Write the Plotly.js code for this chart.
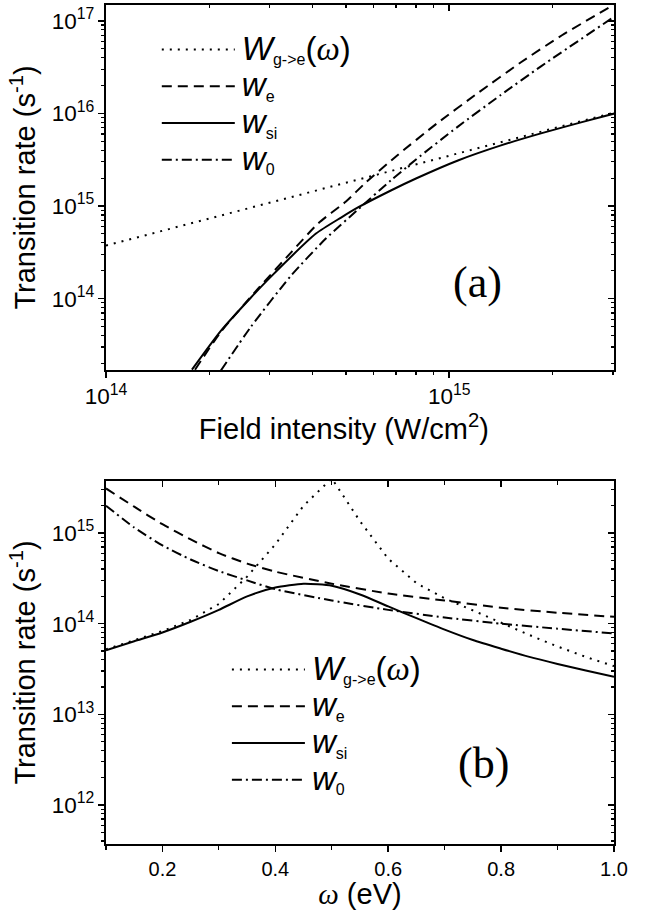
<!DOCTYPE html>
<html><head><meta charset="utf-8">
<script src="https://cdn.plot.ly/plotly-3.0.1.min.js"></script>
<style>html,body{margin:0;padding:0;background:#fff}</style>
</head><body>
<div id="chart" style="width:650px;height:910px"></div>
<script>
// ---------- Panel (a): rate vs field intensity (W/cm^2) ----------
const intensityGe = [1e14, 2e14, 4e14, 7e14, 1e15, 2e15, 3.02e15];
const wGeA = [3.74e14, 7.3e14, 1.44e15, 2.47e15, 3.5e15, 6.8e15, 1.02e16];
const intensityE = [1.817e14, 2.163e14, 2.772e14, 3.458e14, 4.146e14, 5.002e14, 5.72e14, 6.995e14, 9.21e14, 1.22e15, 1.618e15, 2.13e15, 3.04e15];
const wEA = [1.71e13, 4.4e13, 1.28e14, 3.14e14, 6.47e14, 1.12e15, 1.8e15, 3.43e15, 7.8e15, 1.69e16, 3.56e16, 6.97e16, 1.51e17];
const intensitySi = [1.78e14, 2.163e14, 2.645e14, 3.025e14, 4.09e14, 4.84e14, 5.42e14, 6.76e14, 8.0e14, 1.06e15, 1.415e15, 1.85e15, 2.42e15, 3.04e15];
const wSiA = [1.71e13, 4.51e13, 1.03e14, 1.73e14, 5.04e14, 7.5e14, 9.64e14, 1.47e15, 1.98e15, 3.1e15, 4.51e15, 6.08e15, 8.0e15, 1.0e16];
const intensity0 = [2.16e14, 2.645e14, 3.46e14, 4.37e14, 5.42e14, 6.76e14, 8.0e14, 1.06e15, 1.41e15, 1.85e15, 3.04e15];
const w0A = [1.67e13, 4.98e13, 1.77e14, 4.45e14, 9.16e14, 1.89e15, 3.18e15, 7.2e15, 1.57e16, 3.22e16, 1.12e17];

// ---------- Panel (b): rate vs photon energy (eV) ----------
const omegaGe = [0.1, 0.15, 0.2, 0.25, 0.3, 0.35, 0.4, 0.45, 0.5, 0.55, 0.6, 0.65, 0.7, 0.75, 0.8, 0.85, 0.9, 0.95, 1.0];
const wGeB = [5.2e13, 6.6e13, 8.3e13, 1.1e14, 1.65e14, 3.3e14, 7.5e14, 2.0e15, 4.0e15, 1.35e15, 5.2e14, 2.8e14, 1.9e14, 1.4e14, 1.02e14, 7.5e13, 5.6e13, 4.3e13, 3.4e13];
const omegaE = [0.1, 0.15, 0.2, 0.25, 0.3, 0.35, 0.4, 0.5, 0.6, 0.7, 0.8, 0.9, 1.0];
const wEB = [3.1e15, 1.95e15, 1.25e15, 8.5e14, 6.0e14, 4.6e14, 3.75e14, 2.76e14, 2.15e14, 1.8e14, 1.5e14, 1.32e14, 1.19e14];
const omegaSi = [0.1, 0.15, 0.2, 0.25, 0.3, 0.35, 0.4, 0.45, 0.5, 0.55, 0.6, 0.65, 0.7, 0.75, 0.8, 0.85, 0.9, 0.95, 1.0];
const wSiB = [5.1e13, 6.4e13, 8.0e13, 1.05e14, 1.42e14, 2.0e14, 2.5e14, 2.75e14, 2.62e14, 2.1e14, 1.55e14, 1.15e14, 8.6e13, 6.6e13, 5.3e13, 4.3e13, 3.6e13, 3.05e13, 2.6e13];
const omega0 = [0.1, 0.15, 0.2, 0.25, 0.3, 0.35, 0.4, 0.5, 0.6, 0.7, 0.8, 0.9, 1.0];
const w0B = [2.0e15, 1.15e15, 7.3e14, 5.1e14, 3.8e14, 3.0e14, 2.4e14, 1.8e14, 1.42e14, 1.17e14, 1.0e14, 8.8e13, 7.8e13];

// ---------- Labels ----------
const big = 'font-size:33px';
const small = 'font-size:16px';
const omegaSym = '<span style="font-family:\'Liberation Serif\',serif"><i>ω</i></span>';
const nameGe = `<span style="${big}"><i>W</i></span><sub><span style="${small}">g-&gt;e</span></sub><span style="${big}">(${omegaSym})</span>`;
const nameE = `<span style="${big}"><i>w</i></span><sub><span style="${small}">e</span></sub>`;
const nameSi = `<span style="${big}"><i>w</i></span><sub><span style="${small}">si</span></sub>`;
const name0 = `<span style="${big}"><i>w</i></span><sub><span style="${small}">0</span></sub>`;
const yTitle = 'Transition rate (s<sup>-1</sup>)';
const xTitleA = 'Field intensity (W/cm<sup>2</sup>)&nbsp;&nbsp;&nbsp;&nbsp;';
const xTitleB = omegaSym + ' (eV)';

const dots = '2px,6px', dashes = '10px,6px', dashdot = '10px,4px,2px,4px';
const FONT = 'Liberation Sans, Arial, sans-serif';

function tr(x, y, name, dash, xa, ya, leg, shape) {
  return {x: x, y: y, name: name, type: 'scatter', mode: 'lines', xaxis: xa, yaxis: ya, legend: leg,
          line: {color: '#000', width: 2, dash: dash, shape: shape || 'spline', smoothing: 0.6}, hoverinfo: 'skip'};
}

const data = [
  tr(intensityGe, wGeA, nameGe, dots, 'x', 'y', 'legend', 'linear'),
  tr(intensityE, wEA, nameE, dashes, 'x', 'y', 'legend'),
  tr(intensitySi, wSiA, nameSi, 'solid', 'x', 'y', 'legend'),
  tr(intensity0, w0A, name0, dashdot, 'x', 'y', 'legend'),
  tr(omegaGe, wGeB, nameGe, dots, 'x2', 'y2', 'legend2', 'linear'),
  tr(omegaE, wEB, nameE, dashes, 'x2', 'y2', 'legend2'),
  tr(omegaSi, wSiB, nameSi, 'solid', 'x2', 'y2', 'legend2'),
  tr(omega0, w0B, name0, dashdot, 'x2', 'y2', 'legend2'),
  {x: [], y: [], type: 'scatter', xaxis: 'x3', yaxis: 'y3', showlegend: false},
  {x: [], y: [], type: 'scatter', xaxis: 'x4', yaxis: 'y4', showlegend: false}
];

const tickFont = {family: FONT, size: 18, color: '#000'};
const tickFontB = {family: FONT, size: 20, color: '#000'};
const titleFont = {family: FONT, size: 29, color: '#000'};
function mainAxis(extra) {
  return Object.assign({showline: true, linewidth: 2, linecolor: '#000', mirror: true,
    ticks: 'outside', ticklen: 6, tickwidth: 1.5, tickcolor: '#000', showgrid: false, zeroline: false,
    tickfont: tickFont, exponentformat: 'power'}, extra);
}
function mirrorAxis(extra) {
  return Object.assign({showline: false, ticks: 'inside', ticklen: 6, tickwidth: 1.5, tickcolor: '#000',
    showgrid: false, zeroline: false, showticklabels: false}, extra);
}
const logMinor = {dtick: 'D1', ticks: 'outside', ticklen: 3, tickwidth: 1.2, tickcolor: '#000', showgrid: false};
const logMinorIn = {dtick: 'D1', ticks: 'inside', ticklen: 3, tickwidth: 1.2, tickcolor: '#000', showgrid: false};
const linMinor = {dtick: 0.1, ticks: 'outside', ticklen: 4, tickwidth: 1.2, tickcolor: '#000', showgrid: false};
const linMinorIn = {dtick: 0.1, ticks: 'inside', ticklen: 4, tickwidth: 1.2, tickcolor: '#000', showgrid: false};

const xRangeA = [14, 15.48], yRangeA = [13.23, 17.17];
const xRangeB = [0.1, 1.0], yRangeB = [11.57, 15.574];
const domA = [0.565, 1], domB = [0, 0.4327];

const layout = {
  width: 650, height: 910,
  margin: {l: 106, r: 36, t: 5, b: 66},
  paper_bgcolor: '#fff', plot_bgcolor: '#fff',
  font: {family: FONT, color: '#000'},
  xaxis: mainAxis({type: 'log', range: xRangeA, anchor: 'y', dtick: 1, minor: logMinor,
    title: {text: xTitleA, font: titleFont, standoff: 3}}),
  yaxis: mainAxis({type: 'log', range: yRangeA, domain: domA, anchor: 'x', dtick: 1, minor: logMinor,
    title: {text: yTitle, font: titleFont, standoff: 8}}),
  xaxis2: mainAxis({range: xRangeB, anchor: 'y2', dtick: 0.2, tickformat: '.1f', minor: linMinor, tickfont: tickFontB,
    title: {text: xTitleB, font: titleFont, standoff: 6}}),
  yaxis2: mainAxis({type: 'log', range: yRangeB, domain: domB, anchor: 'x2', dtick: 1, minor: logMinor,
    title: {text: yTitle, font: titleFont, standoff: 8}}),
  xaxis3: mirrorAxis({type: 'log', range: xRangeA, overlaying: 'x', side: 'top', anchor: 'y3', dtick: 1, minor: logMinorIn}),
  yaxis3: mirrorAxis({type: 'log', range: yRangeA, overlaying: 'y', side: 'right', anchor: 'x3', dtick: 1, minor: logMinorIn}),
  xaxis4: mirrorAxis({range: xRangeB, overlaying: 'x2', side: 'top', anchor: 'y4', dtick: 0.2, minor: linMinorIn}),
  yaxis4: mirrorAxis({type: 'log', range: yRangeB, overlaying: 'y2', side: 'right', anchor: 'x4', dtick: 1, minor: logMinorIn}),
  legend: {x: 0.1, xanchor: 'left', y: 0.975, yanchor: 'top', bgcolor: 'rgba(0,0,0,0)',
    font: {family: FONT, size: 26, color: '#000'}, itemwidth: 75, tracegroupgap: 0},
  legend2: {x: 0.238, xanchor: 'left', y: 0.236, yanchor: 'top', bgcolor: 'rgba(0,0,0,0)',
    font: {family: FONT, size: 26, color: '#000'}, itemwidth: 75, tracegroupgap: 0},
  annotations: [
    {text: '(a)', xref: 'paper', yref: 'paper', x: 0.732, y: 0.6687, xanchor: 'center', yanchor: 'middle', showarrow: false,
     font: {family: 'Liberation Serif, Times New Roman, serif', size: 44, color: '#000'}},
    {text: '(b)', xref: 'paper', yref: 'paper', x: 0.744, y: 0.096, xanchor: 'center', yanchor: 'middle', showarrow: false,
     font: {family: 'Liberation Serif, Times New Roman, serif', size: 44, color: '#000'}}
  ],
  showlegend: true
};

Plotly.newPlot('chart', data, layout, {staticPlot: true, displayModeBar: false}).then(function () {
  document.querySelectorAll('.legendlines path').forEach(function (p) {
    p.setAttribute('d', 'M5,0h73');
  });
});
</script>
</body></html>
